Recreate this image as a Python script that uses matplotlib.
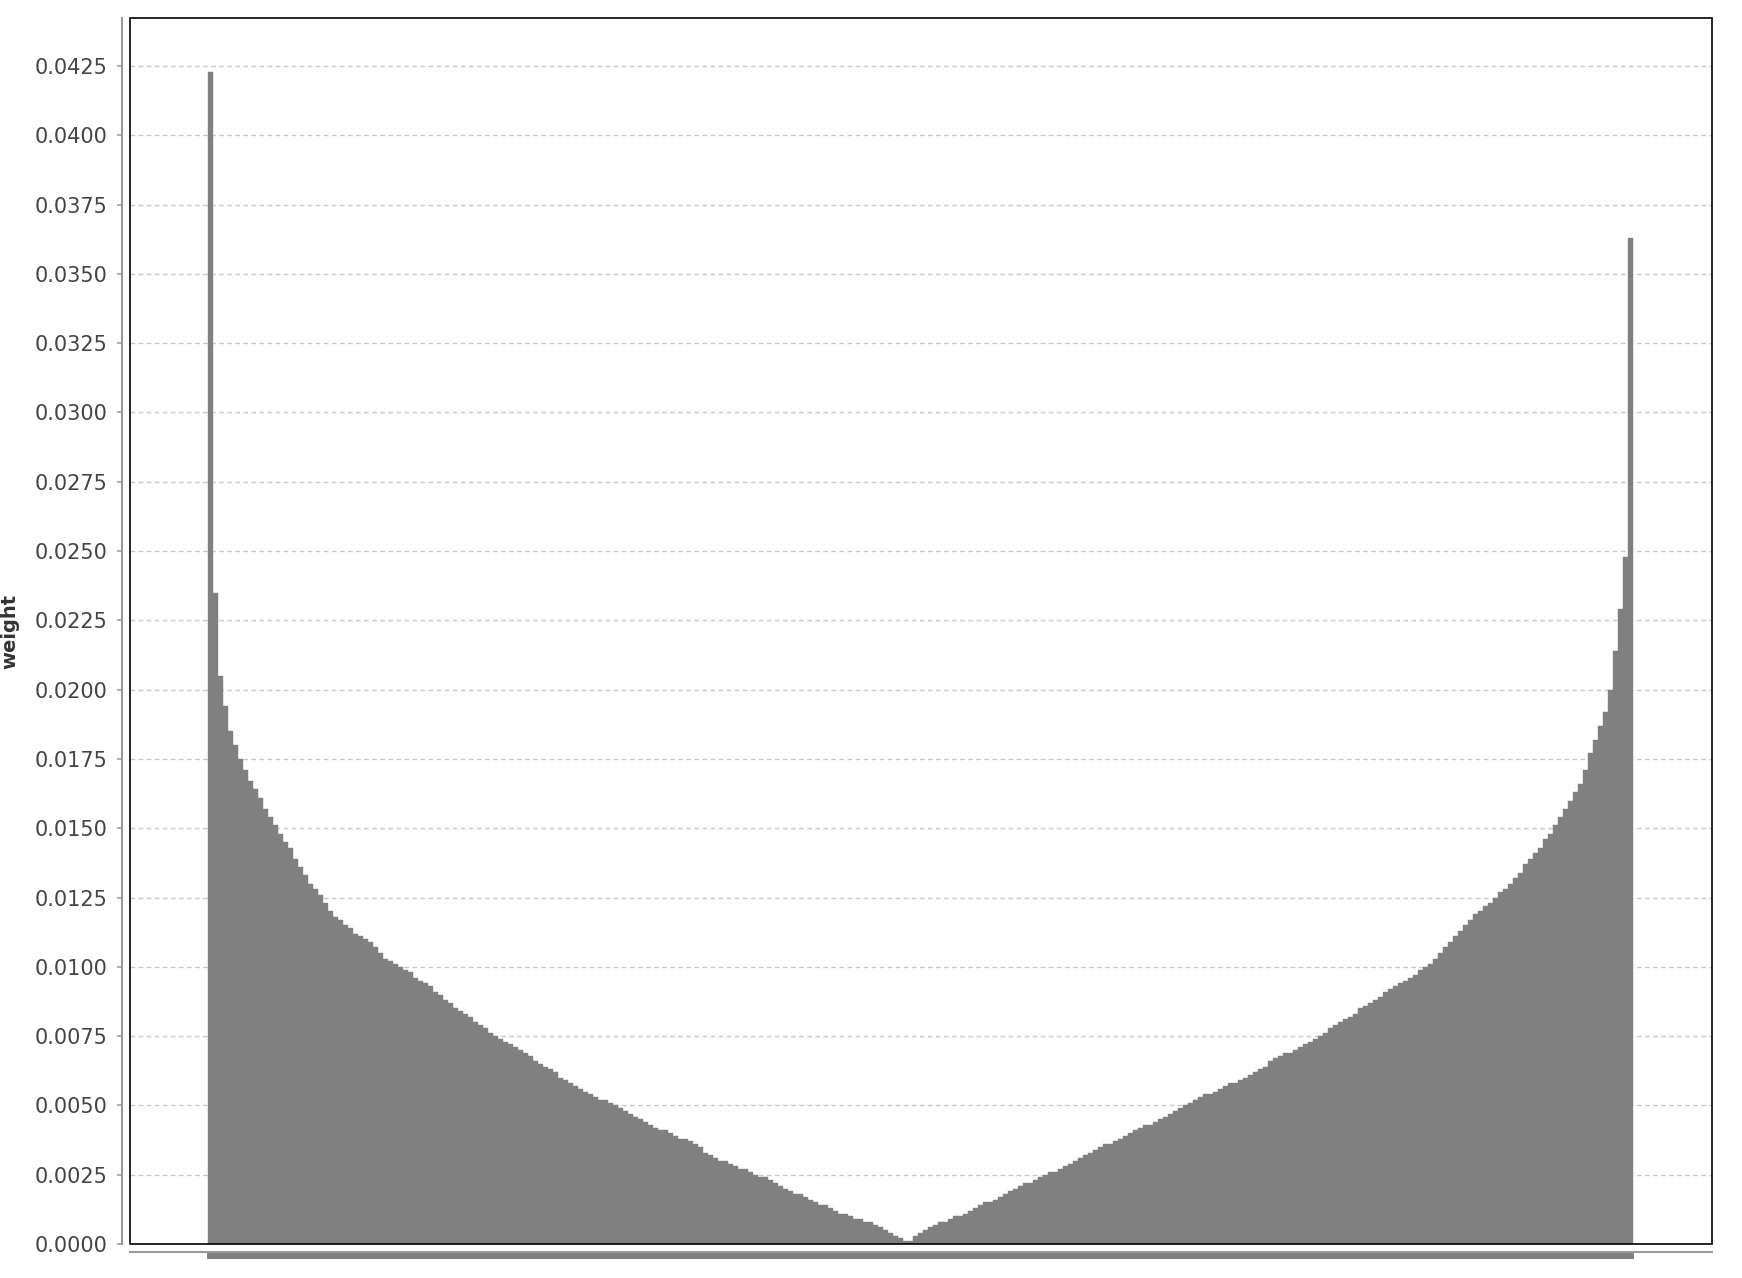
import numpy as np
import matplotlib
matplotlib.use("Agg")
import matplotlib.pyplot as plt
from matplotlib.patches import Rectangle
from matplotlib.ticker import FormatStrFormatter

# sorted feature weights (one value per bar)
weights = [
    0.0423, 0.0235, 0.0205, 0.0194, 0.0185, 0.0180, 0.0175, 0.0171, 0.0167, 0.0164,
    0.0161, 0.0157, 0.0154, 0.0151, 0.0148, 0.0145, 0.0143, 0.0139, 0.0136, 0.0133,
    0.0130, 0.0128, 0.0126, 0.0123, 0.0120, 0.0118, 0.0117, 0.0115, 0.0114, 0.0112,
    0.0111, 0.0110, 0.0109, 0.0107, 0.0105, 0.0103, 0.0102, 0.0101, 0.0100, 0.0099,
    0.0098, 0.0096, 0.0095, 0.0094, 0.0093, 0.0091, 0.0090, 0.0088, 0.0087, 0.0085,
    0.0084, 0.0083, 0.0082, 0.0080, 0.0079, 0.0078, 0.0076, 0.0075, 0.0074, 0.0073,
    0.0072, 0.0071, 0.0070, 0.0069, 0.0068, 0.0066, 0.0065, 0.0064, 0.0063, 0.0062,
    0.0060, 0.0059, 0.0058, 0.0057, 0.0056, 0.0055, 0.0054, 0.0053, 0.0052, 0.0052,
    0.0051, 0.0050, 0.0049, 0.0048, 0.0047, 0.0046, 0.0045, 0.0044, 0.0043, 0.0042,
    0.0041, 0.0041, 0.0040, 0.0039, 0.0038, 0.0038, 0.0037, 0.0036, 0.0035, 0.0033,
    0.0032, 0.0031, 0.0030, 0.0030, 0.0029, 0.0028, 0.0027, 0.0027, 0.0026, 0.0025,
    0.0024, 0.0024, 0.0023, 0.0022, 0.0021, 0.0020, 0.0019, 0.0018, 0.0018, 0.0017,
    0.0016, 0.0015, 0.0014, 0.0014, 0.0013, 0.0012, 0.0011, 0.0011, 0.0010, 0.0009,
    0.0009, 0.0008, 0.0008, 0.0007, 0.0006, 0.0005, 0.0004, 0.0003, 0.0002, 0.0001,
    0.0001, 0.0003, 0.0004, 0.0005, 0.0006, 0.0007, 0.0008, 0.0008, 0.0009, 0.0010,
    0.0010, 0.0011, 0.0012, 0.0013, 0.0014, 0.0015, 0.0015, 0.0016, 0.0017, 0.0018,
    0.0019, 0.0020, 0.0021, 0.0022, 0.0022, 0.0023, 0.0024, 0.0025, 0.0026, 0.0026,
    0.0027, 0.0028, 0.0029, 0.0030, 0.0031, 0.0032, 0.0033, 0.0034, 0.0035, 0.0036,
    0.0036, 0.0037, 0.0038, 0.0039, 0.0040, 0.0041, 0.0042, 0.0043, 0.0043, 0.0044,
    0.0045, 0.0046, 0.0047, 0.0048, 0.0049, 0.0050, 0.0051, 0.0052, 0.0053, 0.0054,
    0.0054, 0.0055, 0.0056, 0.0057, 0.0058, 0.0058, 0.0059, 0.0060, 0.0061, 0.0062,
    0.0063, 0.0064, 0.0066, 0.0067, 0.0068, 0.0069, 0.0069, 0.0070, 0.0071, 0.0072,
    0.0073, 0.0074, 0.0075, 0.0076, 0.0078, 0.0079, 0.0080, 0.0081, 0.0082, 0.0083,
    0.0085, 0.0086, 0.0087, 0.0088, 0.0089, 0.0091, 0.0092, 0.0093, 0.0094, 0.0095,
    0.0096, 0.0097, 0.0099, 0.0100, 0.0101, 0.0103, 0.0105, 0.0107, 0.0109, 0.0111,
    0.0113, 0.0115, 0.0117, 0.0119, 0.0120, 0.0122, 0.0123, 0.0125, 0.0127, 0.0128,
    0.0130, 0.0132, 0.0134, 0.0137, 0.0139, 0.0141, 0.0143, 0.0146, 0.0148, 0.0151,
    0.0154, 0.0157, 0.0160, 0.0163, 0.0166, 0.0171, 0.0177, 0.0182, 0.0187, 0.0192,
    0.0200, 0.0214, 0.0229, 0.0248, 0.0363,
]
y_ticks = np.arange(0, 0.0426, 0.0025)

plt.rcParams['font.family'] = ['DejaVu Sans']

fig = plt.figure(figsize=(17.42, 12.78), dpi=100)
ax = fig.add_axes([0.0746, 0.0266, 0.9082, 0.9593])

x = np.arange(len(weights))
ax.bar(x, weights, width=1.0, color='#808080', edgecolor='#808080', linewidth=0.3, zorder=2)

ax.set_xlim(-16.1, len(weights) - 0.5 + 15.8)
ax.set_ylim(0, 0.04423)

# y axis
ax.set_yticks(y_ticks)
ax.yaxis.set_major_formatter(FormatStrFormatter('%.4f'))
ax.tick_params(axis='y', direction='out', length=3.6, width=1.1, color='#999999',
               pad=6.5, labelsize=15, labelcolor='#444444')
ax.set_ylabel('weight', fontsize=14, fontweight='bold', color='#333333')
ax.yaxis.set_label_coords(-0.0702, 0.5)

# x axis: one gray tick per bar, no labels (they merge into a solid strip)
ax.set_xticks(x)
ax.set_xticklabels([])
ax.tick_params(axis='x', direction='out', length=5, width=4.3, color='#808080')

ax.grid(axis='y', color='#c8c8c8', linestyle=(0, (3.4, 2.4)), linewidth=1.0, zorder=0)
ax.set_axisbelow(True)

for side in ['top', 'right']:
    ax.spines[side].set_visible(False)
for side in ['left', 'bottom']:
    ax.spines[side].set_position(('outward', 5.8))
    ax.spines[side].set_color('#999999')
    ax.spines[side].set_linewidth(1.5)

# black plot frame
ax.add_patch(Rectangle((0, 0), 1, 1, transform=ax.transAxes, fill=False,
                       edgecolor='black', linewidth=1.2, zorder=5, clip_on=False))

fig.savefig('out.png', dpi=100)
